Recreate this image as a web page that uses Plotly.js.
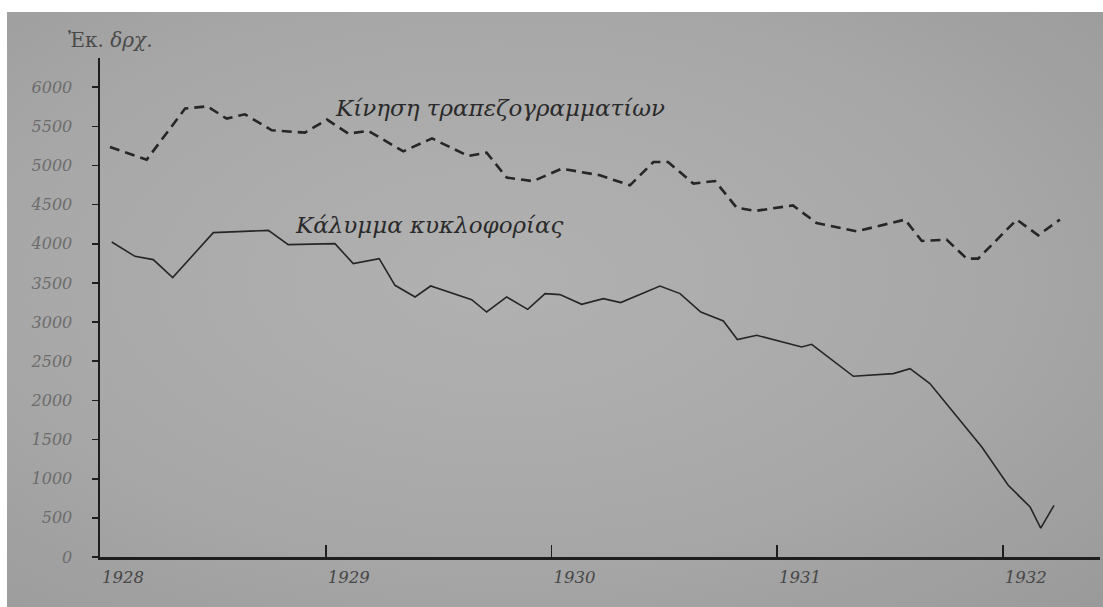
<!DOCTYPE html>
<html>
<head>
<meta charset="utf-8">
<script src="https://cdn.plot.ly/plotly-3.0.1.min.js"></script>
<style>
  html, body { margin: 0; padding: 0; background: #ffffff; width: 1103px; height: 607px; overflow: hidden; }
  #chart {
    position: absolute; left: 7px; top: 12px; width: 1096px; height: 595px;
    background: radial-gradient(ellipse at 45% 45%, #b1b1b1 0%, #a8a8a8 55%, #9a9a9a 100%);
  }
</style>
</head>
<body>
<div id="chart"></div>
<script>
// Κίνηση τραπεζογραμματίων (dashed) — x in decimal years, y in million drachmas
const notesX = [1928.044, 1928.207, 1928.377, 1928.475, 1928.561, 1928.642, 1928.761, 1928.908,
  1929.006, 1929.100, 1929.189, 1929.344, 1929.471, 1929.632, 1929.713, 1929.802, 1929.919,
  1930.046, 1930.215, 1930.348, 1930.452, 1930.517, 1930.629, 1930.725, 1930.821, 1930.902,
  1931.070, 1931.175, 1931.353, 1931.567, 1931.641, 1931.751, 1931.840, 1931.891,
  1932.062, 1932.157, 1932.253];
const notesY = [5236, 5075, 5727, 5756, 5599, 5654, 5450, 5420,
  5586, 5407, 5441, 5181, 5346, 5121, 5165, 4845, 4800,
  4960, 4875, 4747, 5045, 5045, 4769, 4802, 4462, 4419,
  4490, 4266, 4160, 4309, 4036, 4054, 3811, 3811,
  4309, 4109, 4309];

// Κάλυμμα κυκλοφορίας (solid)
const coverX = [1928.052, 1928.155, 1928.236, 1928.322, 1928.502, 1928.746, 1928.834,
  1929.041, 1929.122, 1929.237, 1929.307, 1929.396, 1929.465, 1929.647, 1929.713, 1929.802, 1929.895, 1929.972,
  1930.038, 1930.134, 1930.230, 1930.307, 1930.481, 1930.570, 1930.662, 1930.762, 1930.824, 1930.910,
  1931.109, 1931.153, 1931.338, 1931.515, 1931.589, 1931.677, 1931.907,
  1932.024, 1932.121, 1932.168, 1932.227];
const coverY = [4023, 3840, 3798, 3568, 4143, 4172, 3990,
  4002, 3747, 3811, 3470, 3321, 3461, 3287, 3129, 3321, 3163, 3364,
  3351, 3227, 3300, 3249, 3461, 3364, 3129, 3014, 2777, 2831,
  2682, 2716, 2308, 2342, 2406, 2215, 1405,
  916, 639, 370, 660];

const yearTicks = [1928, 1929, 1930, 1931, 1932];
const yearLabels = ['1928', '1929', '1930', '1931', '1932'];
const valueTicks = [0, 500, 1000, 1500, 2000, 2500, 3000, 3500, 4000, 4500, 5000, 5500, 6000];

const seriesNames = ['Κίνηση τραπεζογραμματίων', 'Κάλυμμα κυκλοφορίας'];
const unitLabel = 'Ἐκ. <i>δρχ.</i>';

const ink = '#262626';
const serif = '"DejaVu Serif", serif';

const traces = [
  { x: notesX, y: notesY, type: 'scatter', mode: 'lines', name: seriesNames[0],
    line: { color: ink, width: 2.6, dash: '10px,6px' }, hoverinfo: 'x+y' },
  { x: coverX, y: coverY, type: 'scatter', mode: 'lines', name: seriesNames[1],
    line: { color: ink, width: 1.6 }, hoverinfo: 'x+y' }
];

const layout = {
  width: 1096, height: 595,
  margin: { l: 93, r: 3, t: 46, b: 50 },
  paper_bgcolor: 'rgba(0,0,0,0)',
  plot_bgcolor: 'rgba(0,0,0,0)',
  showlegend: false,
  xaxis: {
    range: [1928, 1932.4307],
    showgrid: false, zeroline: false,
    showline: true, linecolor: '#1e1e1e', linewidth: 2.5,
    tickmode: 'array', tickvals: yearTicks, ticktext: yearLabels,
    ticks: 'inside', ticklen: 12, tickwidth: 1.6, tickcolor: '#1e1e1e',
    ticklabelshift: 23, ticklabelstandoff: 4,
    tickfont: { family: serif, size: 16.5, color: '#474747', style: 'italic' }
  },
  yaxis: {
    range: [0, 6373],
    showgrid: false, zeroline: false,
    showline: true, linecolor: '#1e1e1e', linewidth: 2.5,
    tickmode: 'array', tickvals: valueTicks,
    ticks: 'outside', ticklen: 6, tickwidth: 1.6, tickcolor: '#1e1e1e',
    ticklabelstandoff: 16,
    tickfont: { family: serif, size: 16, color: '#6c6c6c', style: 'italic' }
  },
  annotations: [
    { text: seriesNames[0], xref: 'x', yref: 'y', x: 1929.032, y: 5730,
      xanchor: 'left', yanchor: 'middle', showarrow: false,
      font: { family: serif, size: 23, color: '#2a2a2a', style: 'italic' } },
    { text: seriesNames[1], xref: 'x', yref: 'y', x: 1928.855, y: 4236,
      xanchor: 'left', yanchor: 'middle', showarrow: false,
      font: { family: serif, size: 23, color: '#2a2a2a', style: 'italic' } },
    { text: unitLabel, xref: 'paper', yref: 'paper', x: -0.034, y: 1.0355,
      xanchor: 'left', yanchor: 'middle', showarrow: false,
      font: { family: serif, size: 20, color: '#4a4a4a' } }
  ]
};

Plotly.newPlot('chart', traces, layout, { staticPlot: true, displayModeBar: false });
</script>
</body>
</html>
